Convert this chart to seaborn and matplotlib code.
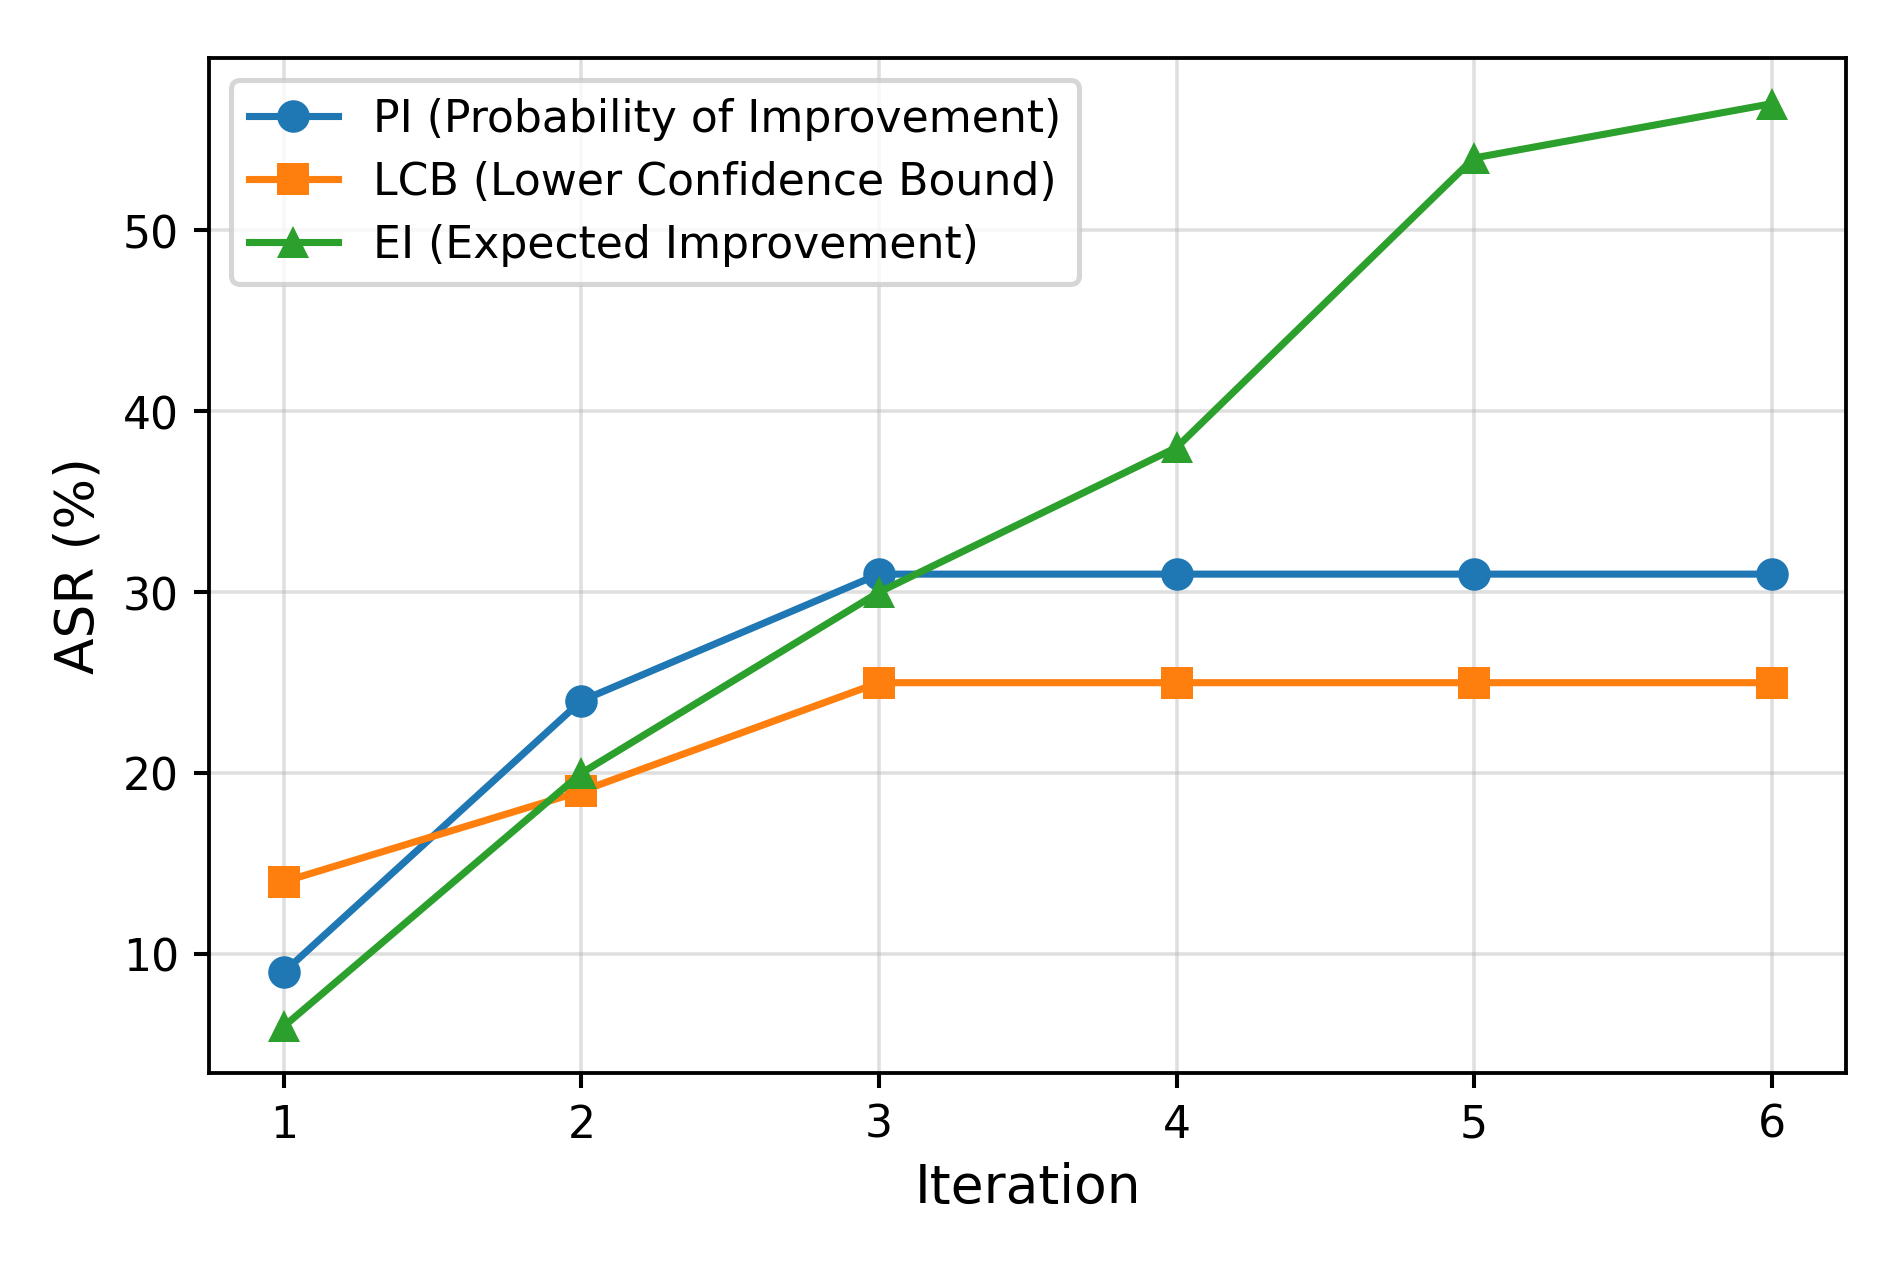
import pandas as pd
import matplotlib
matplotlib.use('Agg')
import matplotlib.pyplot as plt
import seaborn as sns

# data
iterations = [1, 2, 3, 4, 5, 6]
pi_vals = [9, 24, 31, 31, 31, 31]
lcb_vals = [14, 19, 25, 25, 25, 25]
ei_vals = [6, 20, 30, 38, 54, 57]
labels = ['PI (Probability of Improvement)', 'LCB (Lower Confidence Bound)', 'EI (Expected Improvement)']

plt.rcParams['font.family'] = ['DejaVu Sans']
plt.rcParams['axes.linewidth'] = 0.75
plt.rcParams['xtick.major.size'] = 3.0
plt.rcParams['ytick.major.size'] = 3.0
plt.rcParams['xtick.major.pad'] = 3.0
plt.rcParams['ytick.major.pad'] = 3.0

fig, ax = plt.subplots(figsize=(5.2, 3.4667), dpi=366)
fig.subplots_adjust(left=0.110, right=0.970, top=0.954, bottom=0.154)

colors = sns.color_palette('tab10')
for vals, lab, mk, c in zip([pi_vals, lcb_vals, ei_vals], labels, ['o', 's', '^'], colors):
    sns.lineplot(x=iterations, y=vals, marker=mk, markersize=6.4, markeredgewidth=0,
                 linewidth=1.4, color=c, label=lab, ax=ax)

ax.set_xlabel('Iteration', fontsize=10.5, labelpad=3)
ax.set_ylabel('ASR (%)', fontsize=10.5, labelpad=3.5)
ax.set_xticks(iterations)
ax.tick_params(labelsize=8.7)
ax.grid(True, alpha=0.4, linewidth=0.7)
ax.legend(loc='upper left', fontsize=8.7, labelspacing=0.45)

fig.savefig('out.png', dpi=366)
